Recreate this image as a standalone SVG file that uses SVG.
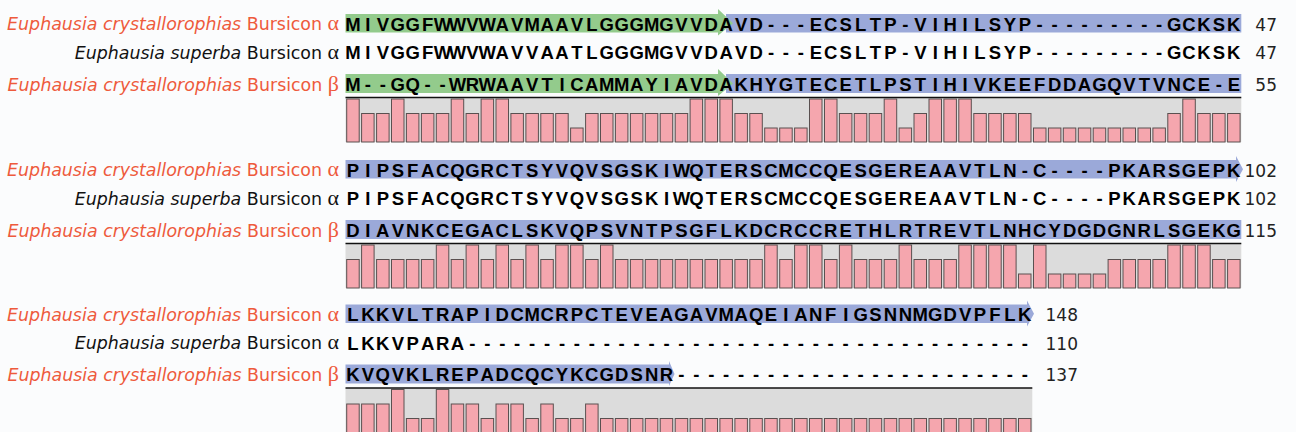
<svg xmlns="http://www.w3.org/2000/svg" xmlns:xlink="http://www.w3.org/1999/xlink" width="1296" height="432" viewBox="0 0 1296 432">
<style>
.lab{font-family:"DejaVu Sans","Open Sans",sans-serif;font-size:17.4px;text-anchor:end}
.red{fill:#ee5a3c}
.blk{fill:#111}
.sp{font-style:italic}
.gr{font-family:"Liberation Serif","DejaVu Serif",serif;font-size:22px}
.seq{font-family:"Liberation Sans",Arial,sans-serif;font-weight:bold;font-size:18.5px;text-anchor:middle;fill:#000}
.num{font-family:"DejaVu Sans","Open Sans",sans-serif;font-size:17px;text-anchor:end;fill:#222}
.green{fill:#93cb8c}
.blue{fill:#9ba9d9}
.bg{fill:#dcdcdc}
.topline{stroke:#111;stroke-width:1.5}
.bars{fill:#f5a6ae;stroke:#5a5050;stroke-width:1}
</style>
<defs>
<rect id="F" y="99" width="12.5" height="43"/>
<rect id="M" y="113.5" width="12.5" height="28.5"/>
<rect id="L" y="128" width="12.5" height="14"/>
</defs>
<rect width="1296" height="432" fill="#fbfcfd"/>

<!-- ===== Block 1 ===== -->
<g id="block1">
<g id="b1-highlights">
<rect class="blue" x="726" y="14" width="515.3" height="18.5"/>
<polygon class="green" points="345.5,14 718,14 718,9 733,23.25 718,35.5 718,32.5 345.5,32.5"/>
<rect class="blue" x="726" y="74" width="515.3" height="19"/>
<polygon class="green" points="345.5,74 718,74 718,69 733,83.5 718,96 718,93 345.5,93"/>
</g>
<g id="b1-labels">
<text class="lab red" x="339" y="30"><tspan class="sp">Euphausia crystallorophias</tspan> Bursicon <tspan class="gr">α</tspan></text>
<text class="lab blk" x="339" y="58.5"><tspan class="sp">Euphausia superba</tspan> Bursicon <tspan class="gr">α</tspan></text>
<text class="lab red" x="339" y="90.5"><tspan class="sp">Euphausia crystallorophias</tspan> Bursicon <tspan class="gr">β</tspan></text>
</g>
<g id="b1-seqs">
<text class="seq" y="30.5" x="353.0 367.9 382.8 397.8 412.7 427.6 442.6 457.5 472.4 487.3 502.3 517.2 532.1 547.1 562.0 576.9 591.8 606.8 621.7 636.6 651.6 666.5 681.4 696.4 711.3 726.2 741.1 756.1 771.0 785.9 800.9 815.8 830.7 845.7 860.6 875.5 890.4 905.4 920.3 935.2 950.2 965.1 980.0 994.9 1009.9 1024.8 1039.7 1054.7 1069.6 1084.5 1099.5 1114.4 1129.3 1144.3 1159.2 1174.1 1189.0 1204.0 1218.9 1233.8">MIVGGFWWVWAVMAAVLGGGMGVVDAVD---ECSLTP-VIHILSYP---------GCKSK</text>
<text class="seq" y="59" x="353.0 367.9 382.8 397.8 412.7 427.6 442.6 457.5 472.4 487.3 502.3 517.2 532.1 547.1 562.0 576.9 591.8 606.8 621.7 636.6 651.6 666.5 681.4 696.4 711.3 726.2 741.1 756.1 771.0 785.9 800.9 815.8 830.7 845.7 860.6 875.5 890.4 905.4 920.3 935.2 950.2 965.1 980.0 994.9 1009.9 1024.8 1039.7 1054.7 1069.6 1084.5 1099.5 1114.4 1129.3 1144.3 1159.2 1174.1 1189.0 1204.0 1218.9 1233.8">MIVGGFWWVWAVVAATLGGGMGVVDAVD---ECSLTP-VIHILSYP---------GCKSK</text>
<text class="seq" y="90.5" x="353.0 367.9 382.8 397.8 412.7 427.6 442.6 457.5 472.4 487.3 502.3 517.2 532.1 547.1 562.0 576.9 591.8 606.8 621.7 636.6 651.6 666.5 681.4 696.4 711.3 726.2 741.1 756.1 771.0 785.9 800.9 815.8 830.7 845.7 860.6 875.5 890.4 905.4 920.3 935.2 950.2 965.1 980.0 994.9 1009.9 1024.8 1039.7 1054.7 1069.6 1084.5 1099.5 1114.4 1129.3 1144.3 1159.2 1174.1 1189.0 1204.0 1218.9 1233.8">M--GQ--WRWAAVTICAMMAYIAVDAKHYGTECETLPSTIHIVKEEFDDAGQVTVNCE-E</text>
</g>
<g id="b1-numbers">
<text class="num" x="1277" y="30.5">47</text>
<text class="num" x="1277" y="59">47</text>
<text class="num" x="1277" y="90.5">55</text>
</g>
<g id="b1-conservation">
<rect class="bg" x="345.5" y="97.5" width="895.8" height="44.5"/>
<line class="topline" x1="345.5" y1="97.5" x2="1241.3" y2="97.5"/>
<g class="bars">
<use href="#F" x="346.7"/><use href="#M" x="361.6"/><use href="#M" x="376.6"/><use href="#F" x="391.5"/><use href="#M" x="406.4"/><use href="#M" x="421.4"/><use href="#M" x="436.3"/><use href="#F" x="451.2"/><use href="#M" x="466.1"/><use href="#F" x="481.1"/>
<use href="#F" x="496.0"/><use href="#M" x="510.9"/><use href="#M" x="525.9"/><use href="#M" x="540.8"/><use href="#M" x="555.7"/><use href="#L" x="570.6"/><use href="#M" x="585.6"/><use href="#M" x="600.5"/><use href="#M" x="615.4"/><use href="#M" x="630.4"/>
<use href="#M" x="645.3"/><use href="#M" x="660.2"/><use href="#M" x="675.2"/><use href="#F" x="690.1"/><use href="#F" x="705.0"/><use href="#F" x="719.9"/><use href="#M" x="734.9"/><use href="#M" x="749.8"/><use href="#L" x="764.7"/><use href="#L" x="779.7"/>
<use href="#L" x="794.6"/><use href="#F" x="809.5"/><use href="#F" x="824.5"/><use href="#M" x="839.4"/><use href="#M" x="854.3"/><use href="#M" x="869.2"/><use href="#F" x="884.2"/><use href="#L" x="899.1"/><use href="#M" x="914.0"/><use href="#F" x="929.0"/>
<use href="#F" x="943.9"/><use href="#F" x="958.8"/><use href="#M" x="973.8"/><use href="#M" x="988.7"/><use href="#M" x="1003.6"/><use href="#M" x="1018.5"/><use href="#L" x="1033.5"/><use href="#L" x="1048.4"/><use href="#L" x="1063.3"/><use href="#L" x="1078.3"/>
<use href="#L" x="1093.2"/><use href="#L" x="1108.1"/><use href="#L" x="1123.0"/><use href="#L" x="1138.0"/><use href="#L" x="1152.9"/><use href="#M" x="1167.8"/><use href="#F" x="1182.8"/><use href="#M" x="1197.7"/><use href="#M" x="1212.6"/><use href="#M" x="1227.6"/>
</g>
</g>
</g>

<!-- ===== Block 2 ===== -->
<g id="block2" transform="translate(0,146)">
<g id="b2-highlights">
<polygon class="blue" points="345.5,14 1236,14 1236,10 1243,23.25 1236,36 1236,32.5 345.5,32.5"/>
<rect class="blue" x="345.5" y="74" width="895.8" height="19"/>
</g>
<g id="b2-labels">
<text class="lab red" x="339" y="30"><tspan class="sp">Euphausia crystallorophias</tspan> Bursicon <tspan class="gr">α</tspan></text>
<text class="lab blk" x="339" y="58.5"><tspan class="sp">Euphausia superba</tspan> Bursicon <tspan class="gr">α</tspan></text>
<text class="lab red" x="339" y="90.5"><tspan class="sp">Euphausia crystallorophias</tspan> Bursicon <tspan class="gr">β</tspan></text>
</g>
<g id="b2-seqs">
<text class="seq" y="30.5" x="353.0 367.9 382.8 397.8 412.7 427.6 442.6 457.5 472.4 487.3 502.3 517.2 532.1 547.1 562.0 576.9 591.8 606.8 621.7 636.6 651.6 666.5 681.4 696.4 711.3 726.2 741.1 756.1 771.0 785.9 800.9 815.8 830.7 845.7 860.6 875.5 890.4 905.4 920.3 935.2 950.2 965.1 980.0 994.9 1009.9 1024.8 1039.7 1054.7 1069.6 1084.5 1099.5 1114.4 1129.3 1144.3 1159.2 1174.1 1189.0 1204.0 1218.9 1233.8">PIPSFACQGRCTSYVQVSGSKIWQTERSCMCCQESGEREAAVTLN-C----PKARSGEPK</text>
<text class="seq" y="59" x="353.0 367.9 382.8 397.8 412.7 427.6 442.6 457.5 472.4 487.3 502.3 517.2 532.1 547.1 562.0 576.9 591.8 606.8 621.7 636.6 651.6 666.5 681.4 696.4 711.3 726.2 741.1 756.1 771.0 785.9 800.9 815.8 830.7 845.7 860.6 875.5 890.4 905.4 920.3 935.2 950.2 965.1 980.0 994.9 1009.9 1024.8 1039.7 1054.7 1069.6 1084.5 1099.5 1114.4 1129.3 1144.3 1159.2 1174.1 1189.0 1204.0 1218.9 1233.8">PIPSFACQGRCTSYVQVSGSKIWQTERSCMCCQESGEREAAVTLN-C----PKARSGEPK</text>
<text class="seq" y="90.5" x="353.0 367.9 382.8 397.8 412.7 427.6 442.6 457.5 472.4 487.3 502.3 517.2 532.1 547.1 562.0 576.9 591.8 606.8 621.7 636.6 651.6 666.5 681.4 696.4 711.3 726.2 741.1 756.1 771.0 785.9 800.9 815.8 830.7 845.7 860.6 875.5 890.4 905.4 920.3 935.2 950.2 965.1 980.0 994.9 1009.9 1024.8 1039.7 1054.7 1069.6 1084.5 1099.5 1114.4 1129.3 1144.3 1159.2 1174.1 1189.0 1204.0 1218.9 1233.8">DIAVNKCEGACLSKVQPSVNTPSGFLKDCRCCRETHLRTREVTLNHCYDGDGNRLSGEKG</text>
</g>
<g id="b2-numbers">
<text class="num" x="1277" y="30.5">102</text>
<text class="num" x="1277" y="59">102</text>
<text class="num" x="1277" y="90.5">115</text>
</g>
<g id="b2-conservation">
<rect class="bg" x="345.5" y="97.5" width="895.8" height="44.5"/>
<line class="topline" x1="345.5" y1="97.5" x2="1241.3" y2="97.5"/>
<g class="bars">
<use href="#M" x="346.7"/><use href="#F" x="361.6"/><use href="#M" x="376.6"/><use href="#M" x="391.5"/><use href="#M" x="406.4"/><use href="#M" x="421.4"/><use href="#F" x="436.3"/><use href="#M" x="451.2"/><use href="#F" x="466.1"/><use href="#M" x="481.1"/>
<use href="#F" x="496.0"/><use href="#M" x="510.9"/><use href="#F" x="525.9"/><use href="#M" x="540.8"/><use href="#F" x="555.7"/><use href="#F" x="570.6"/><use href="#M" x="585.6"/><use href="#F" x="600.5"/><use href="#M" x="615.4"/><use href="#M" x="630.4"/>
<use href="#M" x="645.3"/><use href="#M" x="660.2"/><use href="#M" x="675.2"/><use href="#M" x="690.1"/><use href="#M" x="705.0"/><use href="#M" x="719.9"/><use href="#M" x="734.9"/><use href="#M" x="749.8"/><use href="#F" x="764.7"/><use href="#M" x="779.7"/>
<use href="#F" x="794.6"/><use href="#F" x="809.5"/><use href="#M" x="824.5"/><use href="#F" x="839.4"/><use href="#M" x="854.3"/><use href="#M" x="869.2"/><use href="#M" x="884.2"/><use href="#F" x="899.1"/><use href="#M" x="914.0"/><use href="#M" x="929.0"/>
<use href="#M" x="943.9"/><use href="#F" x="958.8"/><use href="#F" x="973.8"/><use href="#F" x="988.7"/><use href="#F" x="1003.6"/><use href="#L" x="1018.5"/><use href="#F" x="1033.5"/><use href="#L" x="1048.4"/><use href="#L" x="1063.3"/><use href="#L" x="1078.3"/>
<use href="#L" x="1093.2"/><use href="#M" x="1108.1"/><use href="#M" x="1123.0"/><use href="#M" x="1138.0"/><use href="#M" x="1152.9"/><use href="#F" x="1167.8"/><use href="#F" x="1182.8"/><use href="#F" x="1197.7"/><use href="#M" x="1212.6"/><use href="#M" x="1227.6"/>
</g>
</g>
</g>

<!-- ===== Block 3 ===== -->
<g id="block3" transform="translate(0,290.5)">
<g id="b3-highlights">
<polygon class="blue" points="345.5,14 1027,14 1027,10 1034,23.25 1027,36 1027,32.5 345.5,32.5"/>
<polygon class="blue" points="345.5,74 669,74 669,70.5 674.5,83.5 669,95.5 669,93 345.5,93"/>
</g>
<g id="b3-labels">
<text class="lab red" x="339" y="30"><tspan class="sp">Euphausia crystallorophias</tspan> Bursicon <tspan class="gr">α</tspan></text>
<text class="lab blk" x="339" y="58.5"><tspan class="sp">Euphausia superba</tspan> Bursicon <tspan class="gr">α</tspan></text>
<text class="lab red" x="339" y="90.5"><tspan class="sp">Euphausia crystallorophias</tspan> Bursicon <tspan class="gr">β</tspan></text>
</g>
<g id="b3-seqs">
<text class="seq" y="30.5" x="353.0 367.9 382.8 397.8 412.7 427.6 442.6 457.5 472.4 487.3 502.3 517.2 532.1 547.1 562.0 576.9 591.8 606.8 621.7 636.6 651.6 666.5 681.4 696.4 711.3 726.2 741.1 756.1 771.0 785.9 800.9 815.8 830.7 845.7 860.6 875.5 890.4 905.4 920.3 935.2 950.2 965.1 980.0 994.9 1009.9 1024.8">LKKVLTRAPIDCMCRPCTEVEAGAVMAQEIANFIGSNNMGDVPFLK</text>
<text class="seq" y="59" x="353.0 367.9 382.8 397.8 412.7 427.6 442.6 457.5 472.4 487.3 502.3 517.2 532.1 547.1 562.0 576.9 591.8 606.8 621.7 636.6 651.6 666.5 681.4 696.4 711.3 726.2 741.1 756.1 771.0 785.9 800.9 815.8 830.7 845.7 860.6 875.5 890.4 905.4 920.3 935.2 950.2 965.1 980.0 994.9 1009.9 1024.8">LKKVPARA--------------------------------------</text>
<text class="seq" y="90.5" x="353.0 367.9 382.8 397.8 412.7 427.6 442.6 457.5 472.4 487.3 502.3 517.2 532.1 547.1 562.0 576.9 591.8 606.8 621.7 636.6 651.6 666.5 681.4 696.4 711.3 726.2 741.1 756.1 771.0 785.9 800.9 815.8 830.7 845.7 860.6 875.5 890.4 905.4 920.3 935.2 950.2 965.1 980.0 994.9 1009.9 1024.8">KVQVKLREPADCQCYKCGDSNR------------------------</text>
</g>
<g id="b3-numbers">
<text class="num" x="1078" y="30.5">148</text>
<text class="num" x="1078" y="59">110</text>
<text class="num" x="1078" y="90.5">137</text>
</g>
<g id="b3-conservation">
<rect class="bg" x="345.5" y="97.5" width="686.8" height="44.5"/>
<line class="topline" x1="345.5" y1="97.5" x2="1032.3" y2="97.5"/>
<g class="bars">
<use href="#M" x="346.7"/><use href="#M" x="361.6"/><use href="#M" x="376.6"/><use href="#F" x="391.5"/><use href="#L" x="406.4"/><use href="#L" x="421.4"/><use href="#F" x="436.3"/><use href="#M" x="451.2"/><use href="#M" x="466.1"/><use href="#L" x="481.1"/>
<use href="#M" x="496.0"/><use href="#M" x="510.9"/><use href="#L" x="525.9"/><use href="#M" x="540.8"/><use href="#L" x="555.7"/><use href="#L" x="570.6"/><use href="#M" x="585.6"/><use href="#L" x="600.5"/><use href="#L" x="615.4"/><use href="#L" x="630.4"/>
<use href="#L" x="645.3"/><use href="#L" x="660.2"/><use href="#L" x="675.2"/><use href="#L" x="690.1"/><use href="#L" x="705.0"/><use href="#L" x="719.9"/><use href="#L" x="734.9"/><use href="#L" x="749.8"/><use href="#L" x="764.7"/><use href="#L" x="779.7"/>
<use href="#L" x="794.6"/><use href="#L" x="809.5"/><use href="#L" x="824.5"/><use href="#L" x="839.4"/><use href="#L" x="854.3"/><use href="#L" x="869.2"/><use href="#L" x="884.2"/><use href="#L" x="899.1"/><use href="#L" x="914.0"/><use href="#L" x="929.0"/>
<use href="#L" x="943.9"/><use href="#L" x="958.8"/><use href="#L" x="973.8"/><use href="#L" x="988.7"/><use href="#L" x="1003.6"/><use href="#L" x="1018.5"/>
</g>
</g>
</g>
</svg>
